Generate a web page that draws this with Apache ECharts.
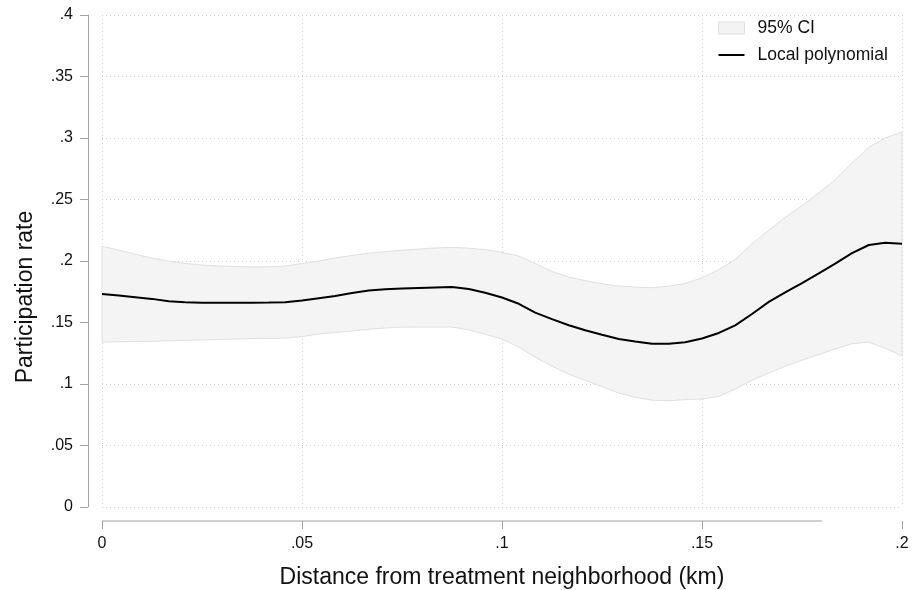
<!DOCTYPE html>
<html>
<head>
<meta charset="utf-8">
<script src="https://cdn.jsdelivr.net/npm/echarts@6/dist/echarts.min.js"></script>
<style>
html,body{margin:0;padding:0;background:#fff;}
#chart{width:913px;height:590px;}
</style>
</head>
<body>
<div id="chart"></div>
<script>
// Distance grid (km)
const distance = [0, 0.0042, 0.0083, 0.0125, 0.0167, 0.0208, 0.025, 0.0292, 0.0333, 0.0375,
  0.0417, 0.0458, 0.05, 0.0542, 0.0583, 0.0625, 0.0667, 0.0708, 0.075, 0.0792,
  0.0833, 0.0875, 0.0917, 0.0958, 0.1, 0.1042, 0.1083, 0.1125, 0.1167, 0.1208,
  0.125, 0.1292, 0.1333, 0.1375, 0.1417, 0.1458, 0.15, 0.1542, 0.1583, 0.1625,
  0.1667, 0.1708, 0.175, 0.1792, 0.1833, 0.1875, 0.1917, 0.1958, 0.2];

// Local polynomial fit
const fitValues = [0.1732, 0.1719, 0.1706, 0.1692, 0.1672, 0.1665, 0.1661, 0.1661, 0.1661, 0.1661,
  0.1662, 0.1664, 0.1679, 0.1698, 0.1716, 0.1740, 0.1760, 0.1770, 0.1776, 0.1780,
  0.1784, 0.1788, 0.1772, 0.1742, 0.1703, 0.1652, 0.1580, 0.1527, 0.1478, 0.1437,
  0.1400, 0.1366, 0.1345, 0.1327, 0.1328, 0.1339, 0.1370, 0.1415, 0.1477, 0.1569,
  0.1668, 0.1745, 0.1821, 0.1899, 0.1978, 0.2064, 0.2130, 0.2149, 0.2141];

// 95% CI upper bound
const ciUpper = [0.2119, 0.2089, 0.2056, 0.2024, 0.1999, 0.1980, 0.1967, 0.1960, 0.1955, 0.1952,
  0.1953, 0.1958, 0.1980, 0.1999, 0.2025, 0.2045, 0.2063, 0.2076, 0.2087, 0.2097,
  0.2106, 0.2111, 0.2104, 0.2092, 0.2070, 0.2040, 0.1980, 0.1915, 0.1870, 0.1840,
  0.1815, 0.1796, 0.1788, 0.1783, 0.1795, 0.1818, 0.1862, 0.1930, 0.2012, 0.2140,
  0.2250, 0.2355, 0.2450, 0.2555, 0.2660, 0.2795, 0.2925, 0.3000, 0.3050];

// 95% CI lower bound
const ciLower = [0.1341, 0.1343, 0.1345, 0.1347, 0.1351, 0.1355, 0.1358, 0.1362, 0.1366, 0.1369,
  0.1372, 0.1373, 0.1385, 0.1407, 0.1418, 0.1432, 0.1445, 0.1455, 0.1462, 0.1463,
  0.1463, 0.1463, 0.1440, 0.1405, 0.1365, 0.1300, 0.1218, 0.1145, 0.1080, 0.1030,
  0.0980, 0.0925, 0.0893, 0.0868, 0.0864, 0.0873, 0.0878, 0.0898, 0.0960, 0.1030,
  0.1090, 0.1145, 0.1193, 0.1240, 0.1285, 0.1328, 0.1340, 0.1290, 0.1230];

const xTickValues = [0, 0.05, 0.1, 0.15, 0.2];
const xTickLabels = ['0', '.05', '.1', '.15', '.2'];
const yTickValues = [0, 0.05, 0.1, 0.15, 0.2, 0.25, 0.3, 0.35, 0.4];
const yTickLabels = ['0', '.05', '.1', '.15', '.2', '.25', '.3', '.35', '.4'];
const xAxisLineEnd = 0.18;

const seriesNames = ['95% CI', 'Local polynomial'];
const xTitle = 'Distance from treatment neighborhood (km)';
const yTitle = 'Participation rate';

const FONT = 'Helvetica, "Liberation Sans", Arial, sans-serif';
const AXIS_COLOR = '#a3a3a3';
const GRID_COLOR = '#cfcfcf';

function labelFor(values, labels, v) {
  for (let i = 0; i < values.length; i++) {
    if (Math.abs(values[i] - v) < 1e-9) return labels[i];
  }
  return '';
}

const fitData = distance.map((d, i) => [d, fitValues[i]]);
const bandData = distance.map((d, i) => [d, ciLower[i], ciUpper[i]]);

const chart = echarts.init(document.getElementById('chart'), null, {renderer: 'canvas'});

const LINE_ICON = 'path://M0,0L0.001,0M0,5H26V7H0ZM26,12L25.999,12';

const option = {
  animation: false,
  backgroundColor: '#ffffff',
  textStyle: {fontFamily: FONT},
  grid: {left: 102, right: 11, top: 15, bottom: 83, containLabel: false, outerBoundsMode: 'none'},
  legend: {
    orient: 'vertical',
    left: 718,
    top: 19,
    padding: 0,
    itemWidth: 26,
    itemHeight: 12,
    itemGap: 9,
    textStyle: {fontFamily: FONT, fontSize: 17.5, color: '#111', padding: [0, 0, 0, 8]},
    data: [
      {name: seriesNames[0], icon: 'rect', itemStyle: {color: '#f3f3f3', borderColor: '#dedede', borderWidth: 1}},
      {name: seriesNames[1], icon: LINE_ICON, itemStyle: {color: '#000', borderWidth: 0}}
    ]
  },
  xAxis: {
    type: 'value',
    min: 0,
    max: 0.2,
    interval: 0.05,
    offset: 14,
    name: xTitle,
    nameLocation: 'middle',
    nameGap: 45,
    nameTextStyle: {fontFamily: FONT, fontSize: 23, color: '#111'},
    axisLine: {show: false, onZero: false},
    axisTick: {show: true, length: 8, lineStyle: {color: AXIS_COLOR, width: 1}},
    axisLabel: {
      margin: 15, fontSize: 16, color: '#111', fontFamily: FONT,
      formatter: v => labelFor(xTickValues, xTickLabels, v)
    },
    splitLine: {show: true, lineStyle: {color: GRID_COLOR, type: [1, 3], width: 1}}
  },
  yAxis: {
    type: 'value',
    min: 0,
    max: 0.4,
    interval: 0.05,
    offset: 14,
    name: yTitle,
    nameLocation: 'middle',
    nameGap: 51,
    nameRotate: 90,
    nameTextStyle: {fontFamily: FONT, fontSize: 23, color: '#111', padding: [0, 72, 0, 0]},
    axisLine: {show: true, onZero: false, lineStyle: {color: AXIS_COLOR, width: 1}},
    axisTick: {show: true, length: 8, lineStyle: {color: AXIS_COLOR, width: 1}},
    axisLabel: {
      margin: 15, fontSize: 16, color: '#111', fontFamily: FONT,
      formatter: v => labelFor(yTickValues, yTickLabels, v)
    },
    splitLine: {show: true, lineStyle: {color: GRID_COLOR, type: [1, 3], width: 1}}
  },
  series: [
    {
      name: seriesNames[0],
      type: 'custom',
      data: bandData,
      encode: {x: 0, y: [1, 2]},
      itemStyle: {color: '#f3f3f3'},
      z: 1,
      renderItem: function (params, api) {
        if (params.dataIndex !== 0) return null;
        const pts = [];
        for (let i = 0; i < bandData.length; i++) pts.push(api.coord([bandData[i][0], bandData[i][2]]));
        for (let i = bandData.length - 1; i >= 0; i--) pts.push(api.coord([bandData[i][0], bandData[i][1]]));
        return {
          type: 'polygon',
          shape: {points: pts},
          style: {fill: '#f4f4f4', stroke: '#e0e0e0', lineWidth: 1}
        };
      }
    },
    {
      name: seriesNames[1],
      type: 'line',
      data: fitData,
      showSymbol: false,
      symbol: 'none',
      smooth: false,
      z: 3,
      itemStyle: {color: '#000'},
      lineStyle: {color: '#000', width: 2}
    }
  ]
};

chart.setOption(option);

// Stata-style detached x-axis line
const p0 = chart.convertToPixel({xAxisIndex: 0, yAxisIndex: 0}, [0, 0]);
const p1 = chart.convertToPixel({xAxisIndex: 0, yAxisIndex: 0}, [xAxisLineEnd, 0]);
chart.setOption({
  graphic: [{
    type: 'line',
    shape: {x1: p0[0], y1: p0[1] + 14, x2: p1[0], y2: p1[1] + 14},
    style: {stroke: AXIS_COLOR, lineWidth: 1},
    silent: true
  }]
});
</script>
</body>
</html>
